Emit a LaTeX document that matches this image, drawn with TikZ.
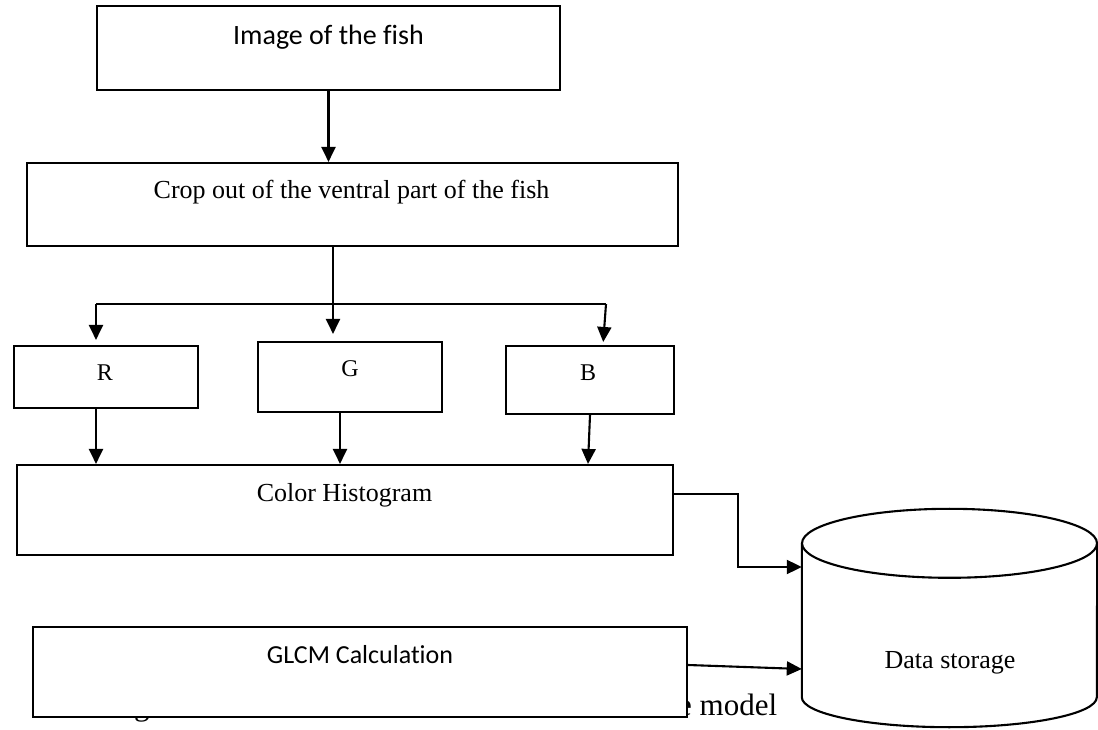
\documentclass[tikz,border=0pt]{standalone}
\usepackage{fontspec}
\setmainfont[Ligatures=NoCommon]{Liberation Serif}
\newfontfamily\calibri[Ligatures=NoCommon]{Carlito}
\usetikzlibrary{arrows.meta,calc}
\begin{document}
\begin{tikzpicture}[x=1pt,y=1pt,
  box/.style={draw, line width=2.1pt, fill=white, inner sep=0pt},
  wire/.style={line width=2.1pt},
  arr/.style={line width=2.1pt, -{Triangle[length=15pt,width=14pt]}},
  txt/.style={inner sep=0pt, anchor=base},
  serif/.style={font=\fontsize{26}{30}\selectfont},
  letter/.style={font=\fontsize{24}{28}\selectfont},
  sans/.style={font=\calibri\fontsize{28}{32}\selectfont},
  capt/.style={font=\fontsize{31}{36}\selectfont},
]
\useasboundingbox (0,0) rectangle (1098,729);

% caption line, mostly hidden behind the GLCM box
\node[txt, anchor=base west, capt] (capg) at (134,14) {g};
\node[txt, anchor=base west, capt] (capmodel) at (678,14) {e model};

% boxes
\node[box, minimum width=463pt, minimum height=84pt] (img) at (328.5,681) {};
\node[box, minimum width=651pt, minimum height=83pt] (crop) at (352.5,524.5) {};
\node[box, minimum width=184pt, minimum height=62pt] (R) at (106,352) {};
\node[box, minimum width=184pt, minimum height=70pt] (G) at (350,352) {};
\node[box, minimum width=168pt, minimum height=68pt] (B) at (590,349) {};
\node[box, minimum width=656pt, minimum height=90pt] (hist) at (345,219) {};
\node[box, minimum width=654pt, minimum height=90pt] (glcm) at (360,57) {};

% data storage cylinder
\node[inner sep=0pt, minimum width=295pt, minimum height=153.5pt] (store) at (949.5,108.75) {};
\draw[wire] (store.north west) -- (store.south west)
  arc[start angle=180, end angle=360, x radius=147.5pt, y radius=30pt]
  -- (store.north east);
\draw[wire] (store.north) ellipse [x radius=147.5pt, y radius=34.5pt];

% labels
\node[txt, sans] (imgtxt) at (328.5,684) {Image of the fish};
\node[txt, serif] (croptxt) at (351.5,530) {Crop out of the ventral part of the fish};
\node[txt, letter] (Rtxt) at (105,348) {R};
\node[txt, letter] (Gtxt) at (350,352) {G};
\node[txt, letter] (Btxt) at (588,348) {B};
\node[txt, serif] (histtxt) at (344.5,227) {Color Histogram};
\node[txt, font=\calibri\fontsize{26}{30}\selectfont] (glcmtxt) at (360,66) {GLCM Calculation};
\node[txt, serif] (storetxt) at (950,61) {Data storage};

% connectors
\draw[arr] (img.south) -- (img.south |- crop.north);
\draw[arr, shorten >=7pt] ([xshift=-19.5pt]crop.south) -- ([xshift=-19.5pt]crop.south |- G.north);

\coordinate (busL) at (96,425);
\coordinate (busR) at (606,425);
\draw[wire] (busL) -- (busR);
\draw[arr, shorten >=5pt] (busL) -- (busL |- R.north);
\draw[arr, shorten >=3pt] (busR) -- ([xshift=13pt]B.north);

\draw[arr] ([xshift=-10pt]R.south) -- ([xshift=-10pt]R.south |- hist.north);
\draw[arr] ([xshift=-10pt]G.south) -- ([xshift=-10pt]G.south |- hist.north);
\draw[arr] (B.south) -- ([xshift=-2pt]B.south |- hist.north);

\coordinate (bend) at (738,162);
\draw[arr] ([yshift=16pt]hist.east) -| (bend) -- (bend -| store.west);
\draw[arr] ([yshift=7pt]glcm.east) -- ([yshift=-48.75pt]store.west);
\end{tikzpicture}
\end{document}
